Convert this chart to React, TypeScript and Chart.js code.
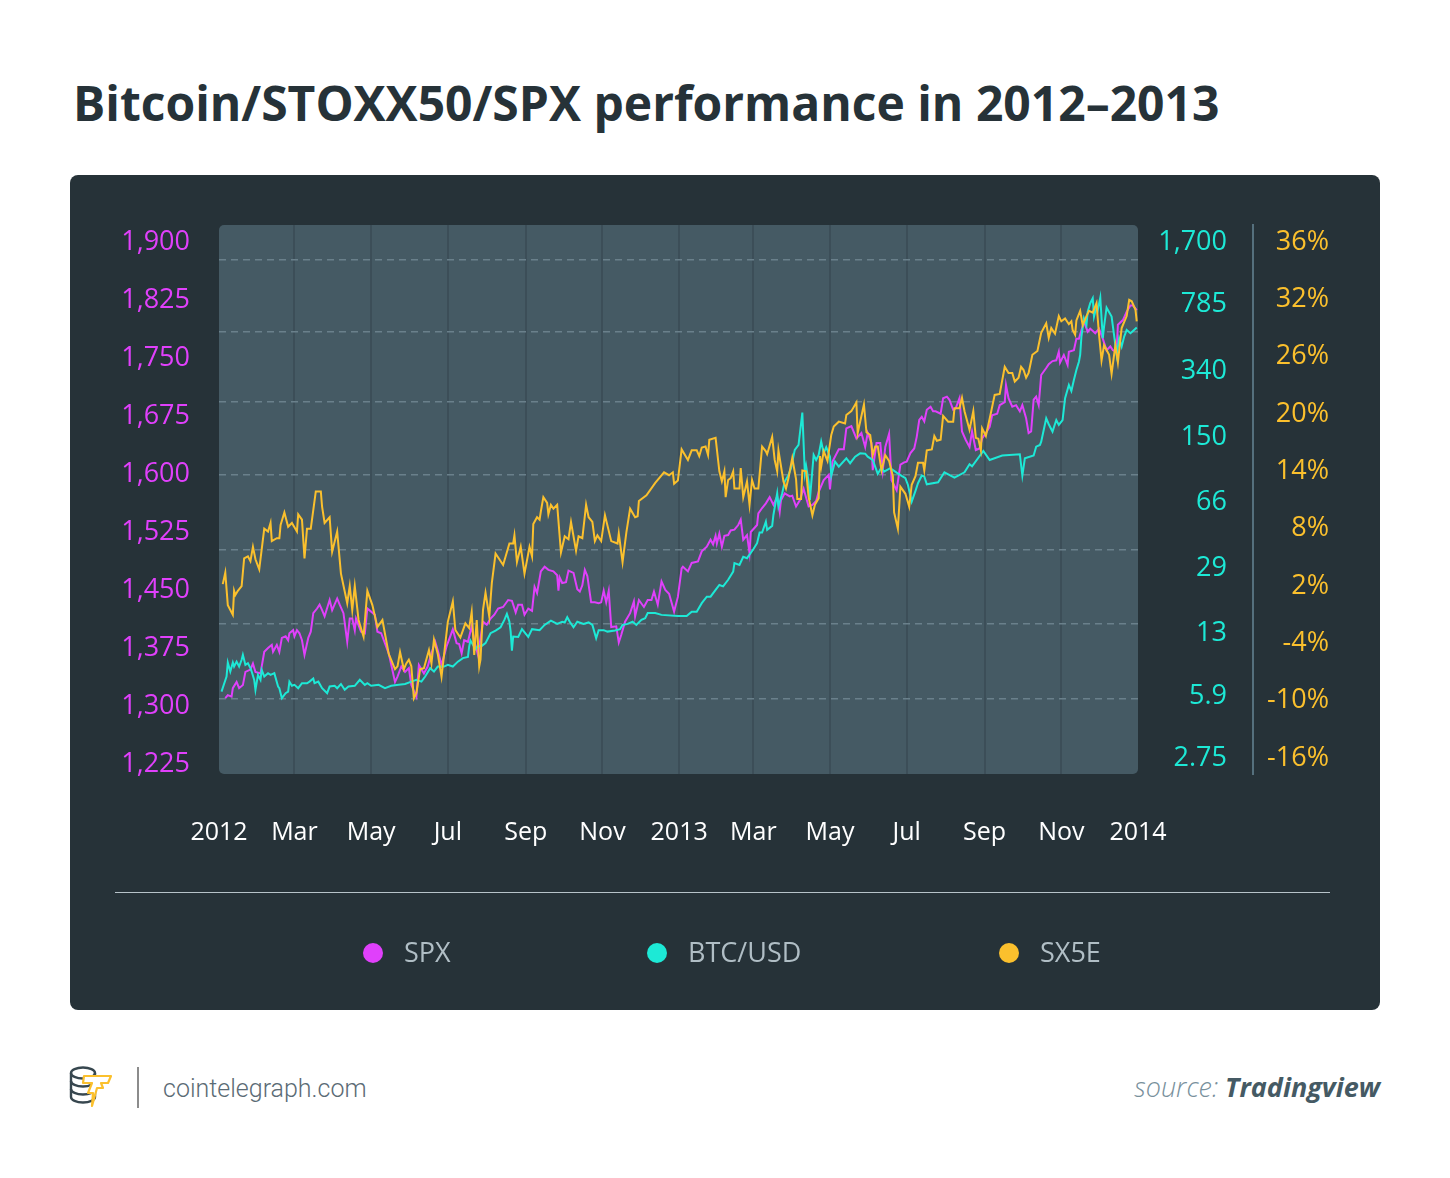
import React, { useEffect, useRef } from 'react';
import { Chart, registerables } from 'chart.js';

Chart.register(...registerables);

// ---------------- data ----------------
const seriesNames = ['SPX', 'BTC/USD', 'SX5E'];
const seriesColors = ['#e040fb', '#1de9d6', '#fbc02d'];

const spxDates = [
  '2012-01-06','2012-01-08','2012-01-11','2012-01-12','2012-01-15','2012-01-17','2012-01-20','2012-01-22','2012-01-26','2012-01-28','2012-01-30',
  '2012-02-03','2012-02-06','2012-02-09','2012-02-12','2012-02-13','2012-02-16','2012-02-18','2012-02-20','2012-02-23','2012-02-25','2012-02-26','2012-02-29',
  '2012-03-01','2012-03-03','2012-03-05','2012-03-07','2012-03-09','2012-03-12','2012-03-14','2012-03-16','2012-03-19','2012-03-21','2012-03-23','2012-03-25','2012-03-29','2012-03-31',
  '2012-04-04','2012-04-06','2012-04-09','2012-04-12','2012-04-14','2012-04-16','2012-04-18','2012-04-19','2012-04-23','2012-04-26','2012-04-28',
  '2012-05-01','2012-05-04','2012-05-06','2012-05-09','2012-05-15','2012-05-20','2012-05-22','2012-05-25','2012-05-28','2012-05-31',
  '2012-06-02','2012-06-06','2012-06-08','2012-06-12','2012-06-15','2012-06-18','2012-06-21','2012-06-23','2012-06-26','2012-06-30',
  '2012-07-05','2012-07-08','2012-07-10','2012-07-12','2012-07-14','2012-07-17','2012-07-20','2012-07-22','2012-07-25','2012-07-29',
  '2012-08-01','2012-08-04','2012-08-07','2012-08-10','2012-08-14','2012-08-18','2012-08-21','2012-08-24','2012-08-26','2012-08-29','2012-08-31',
  '2012-09-03','2012-09-06','2012-09-08','2012-09-10','2012-09-13','2012-09-16','2012-09-19','2012-09-23','2012-09-26','2012-09-27','2012-09-28','2012-09-30',
  '2012-10-03','2012-10-05','2012-10-09','2012-10-12','2012-10-14','2012-10-16','2012-10-18','2012-10-20','2012-10-23','2012-10-26','2012-10-29','2012-10-31',
  '2012-11-02','2012-11-04','2012-11-06','2012-11-08','2012-11-12','2012-11-14','2012-11-16','2012-11-19','2012-11-23','2012-11-26','2012-11-27','2012-11-30',
  '2012-12-04','2012-12-07','2012-12-10','2012-12-12','2012-12-15','2012-12-18','2012-12-21','2012-12-24','2012-12-28','2012-12-31',
  '2013-01-03','2013-01-04','2013-01-08','2013-01-11','2013-01-16','2013-01-19','2013-01-23','2013-01-26','2013-01-28','2013-01-30','2013-01-31',
  '2013-02-02','2013-02-04','2013-02-06','2013-02-09','2013-02-11','2013-02-14','2013-02-17','2013-02-19','2013-02-21','2013-02-24','2013-02-26','2013-02-27',
  '2013-03-04','2013-03-05','2013-03-08','2013-03-11','2013-03-14','2013-03-17','2013-03-20','2013-03-22','2013-03-23','2013-03-26','2013-03-30',
  '2013-04-01','2013-04-04','2013-04-07','2013-04-10','2013-04-14','2013-04-17','2013-04-20','2013-04-22','2013-04-26','2013-04-30',
  '2013-05-01','2013-05-03','2013-05-08','2013-05-12','2013-05-14','2013-05-18','2013-05-22','2013-05-26','2013-05-29','2013-05-31',
  '2013-06-03','2013-06-04','2013-06-07','2013-06-10','2013-06-12','2013-06-14','2013-06-17','2013-06-19','2013-06-23','2013-06-26','2013-06-29',
  '2013-07-01','2013-07-04','2013-07-07','2013-07-09','2013-07-11','2013-07-13','2013-07-15','2013-07-17','2013-07-20','2013-07-22','2013-07-24','2013-07-28','2013-07-30',
  '2013-08-02','2013-08-04','2013-08-07','2013-08-09','2013-08-12','2013-08-14','2013-08-17','2013-08-20','2013-08-22','2013-08-25','2013-08-28','2013-08-30',
  '2013-09-02','2013-09-05','2013-09-07','2013-09-11','2013-09-13','2013-09-17','2013-09-18','2013-09-20','2013-09-23','2013-09-26','2013-09-29',
  '2013-10-01','2013-10-04','2013-10-06','2013-10-08','2013-10-10','2013-10-12','2013-10-14','2013-10-16','2013-10-20','2013-10-22','2013-10-25','2013-10-28','2013-10-30','2013-10-31',
  '2013-11-03','2013-11-06','2013-11-07','2013-11-11','2013-11-13','2013-11-15','2013-11-17','2013-11-19','2013-11-22','2013-11-24','2013-11-28',
  '2013-12-01','2013-12-04','2013-12-07','2013-12-10','2013-12-12','2013-12-15','2013-12-16','2013-12-20','2013-12-23','2013-12-26','2013-12-28','2013-12-31',
];
const spxValues = [
  1310,1314,1312,1323,1331,1323,1327,1344,1347,1355,1344,
  1342,1370,1375,1379,1370,1379,1370,1388,1390,1385,1394,1398,
  1390,1398,1394,1385,1366,1388,1396,1420,1426,1431,1424,1416,1437,1424,
  1439,1431,1420,1383,1413,1413,1398,1413,1396,1394,1426,
  1422,1418,1396,1394,1368,1331,1338,1351,1344,1349,
  1327,1312,1353,1342,1351,1368,1383,1372,1353,1377,
  1399,1381,1380,1368,1385,1383,1403,1385,1366,1409,
  1405,1413,1418,1426,1428,1437,1436,1421,1431,1431,1418,
  1426,1423,1454,1446,1474,1480,1476,1474,1469,1449,1466,1459,
  1460,1475,1472,1451,1448,1456,1476,1468,1434,1434,1433,1434,
  1449,1434,1449,1402,1403,1382,1392,1409,1420,1435,1416,1437,
  1428,1437,1437,1448,1431,1461,1450,1445,1422,1441,
  1478,1480,1474,1485,1487,1500,1506,1515,1509,1520,1510,
  1523,1506,1520,1521,1527,1528,1534,1541,1515,1521,1498,1525,
  1534,1549,1556,1562,1570,1560,1571,1551,1566,1575,1571,
  1572,1558,1566,1581,1558,1560,1565,1577,1592,1599,
  1580,1616,1632,1632,1659,1662,1646,1653,1635,1653,
  1640,1605,1640,1640,1605,1635,1652,1592,1579,1612,1615,
  1616,1627,1633,1648,1670,1674,1668,1683,1687,1681,1681,1678,1698,
  1700,1696,1683,1685,1698,1655,1644,1635,1655,1631,1633,1646,
  1653,1661,1676,1678,1689,1693,1715,1698,1687,1689,1681,
  1689,1672,1653,1655,1696,1700,1689,1728,1737,1742,1746,1747,1758,1744,
  1754,1741,1758,1760,1775,1775,1786,1797,1784,1788,1782,
  1788,1775,1760,1765,1760,1758,1793,1799,1810,1818,1818,1812,
];

const btcDates = [
  '2012-01-03','2012-01-07','2012-01-08','2012-01-10','2012-01-12','2012-01-13','2012-01-15','2012-01-17','2012-01-19','2012-01-20','2012-01-22','2012-01-24','2012-01-26','2012-01-27','2012-01-29','2012-01-30',
  '2012-02-01','2012-02-03','2012-02-04','2012-02-06','2012-02-09','2012-02-11','2012-02-14','2012-02-17','2012-02-18','2012-02-20','2012-02-23','2012-02-25','2012-02-26','2012-02-28',
  '2012-03-01','2012-03-04','2012-03-07','2012-03-11','2012-03-13','2012-03-16','2012-03-17','2012-03-20','2012-03-23','2012-03-27','2012-03-29',
  '2012-04-02','2012-04-04','2012-04-07','2012-04-10','2012-04-13','2012-04-18','2012-04-22','2012-04-26','2012-04-28',
  '2012-05-01','2012-05-07','2012-05-12','2012-05-17','2012-05-23','2012-05-28',
  '2012-06-02','2012-06-06','2012-06-10','2012-06-13','2012-06-17','2012-06-20','2012-06-23','2012-06-28',
  '2012-07-01','2012-07-05','2012-07-09','2012-07-13','2012-07-17','2012-07-18','2012-07-19','2012-07-21','2012-07-23','2012-07-25','2012-07-28','2012-07-31',
  '2012-08-04','2012-08-08','2012-08-12','2012-08-15','2012-08-17','2012-08-19','2012-08-20','2012-08-21','2012-08-22','2012-08-26','2012-08-29',
  '2012-09-03','2012-09-06','2012-09-12','2012-09-16','2012-09-21','2012-09-26','2012-09-30',
  '2012-10-02','2012-10-04','2012-10-06','2012-10-09','2012-10-12','2012-10-17','2012-10-21','2012-10-24','2012-10-27','2012-10-29',
  '2012-11-02','2012-11-05','2012-11-11','2012-11-15','2012-11-17','2012-11-21','2012-11-25','2012-11-28',
  '2012-12-02','2012-12-05','2012-12-07','2012-12-13','2012-12-18','2012-12-31',
  '2013-01-07','2013-01-11','2013-01-15','2013-01-19','2013-01-23','2013-01-26','2013-01-30',
  '2013-02-02','2013-02-05','2013-02-09','2013-02-13','2013-02-14','2013-02-18','2013-02-21','2013-02-24',
  '2013-03-01','2013-03-04','2013-03-06','2013-03-08','2013-03-11','2013-03-12','2013-03-16','2013-03-17','2013-03-20','2013-03-21','2013-03-24','2013-03-26','2013-03-29','2013-03-31',
  '2013-04-03','2013-04-06','2013-04-09','2013-04-11','2013-04-12','2013-04-14','2013-04-15','2013-04-18','2013-04-20','2013-04-22','2013-04-24','2013-04-26','2013-04-28',
  '2013-05-01','2013-05-02','2013-05-05','2013-05-08','2013-05-14','2013-05-17','2013-05-21','2013-05-25','2013-05-29','2013-05-31',
  '2013-06-04','2013-06-08','2013-06-11','2013-06-13','2013-06-18','2013-06-23','2013-06-27','2013-06-30',
  '2013-07-02','2013-07-05','2013-07-08','2013-07-10','2013-07-13','2013-07-15','2013-07-17','2013-07-26','2013-07-31',
  '2013-08-08','2013-08-16','2013-08-20','2013-08-22','2013-08-31',
  '2013-09-05','2013-09-15','2013-09-29',
  '2013-10-01','2013-10-03','2013-10-10','2013-10-12','2013-10-15','2013-10-16','2013-10-20','2013-10-22','2013-10-25','2013-10-28','2013-10-30',
  '2013-11-02','2013-11-04','2013-11-07','2013-11-09','2013-11-11','2013-11-13','2013-11-15','2013-11-16','2013-11-17','2013-11-19','2013-11-21','2013-11-22','2013-11-24','2013-11-26','2013-11-27','2013-11-29','2013-11-30',
  '2013-12-02','2013-12-04','2013-12-05','2013-12-07','2013-12-11','2013-12-14','2013-12-15','2013-12-17','2013-12-19','2013-12-21','2013-12-23','2013-12-26','2013-12-28','2013-12-31',
];
const btcValues = [
  6.28,7.58,9.02,8.06,9.02,8.58,9.12,8.58,9.33,9.93,8.76,8.94,8.41,8.06,7.27,6.42,
  7.74,7.27,8.23,7.58,7.9,7.74,7.9,6.69,6.55,5.79,6.16,6.28,7.11,6.75,
  6.83,6.55,6.97,6.97,7.11,7.39,6.97,7.11,6.55,6.16,6.69,
  6.75,6.55,6.9,6.42,6.69,6.75,7.27,6.83,6.97,
  6.75,6.83,6.55,6.75,6.83,6.9,
  7.11,7.27,7.11,7.58,8.41,8.06,8.58,8.58,
  8.76,8.58,9.12,9.53,9.66,11.0,11.86,11.24,10.66,11.1,11.1,11.49,
  13.0,13.44,14.0,15.35,16.53,15.0,13.26,10.47,12.47,12.4,13.67,
  12.4,13.67,13.5,14.41,15.2,14.6,15.0,
  14.86,15.86,15.0,14.0,15.0,14.6,14.86,14.41,12.2,13.5,
  13.5,13.26,13.44,13.67,14.41,14.6,15.0,14.41,
  15.35,15.68,16.7,16.7,16.33,16.1,
  16.1,17.0,17.0,18.9,20.5,20.5,22.3,
  23.7,23.3,25.3,28.0,31.1,30.4,33.7,33.1,
  37.0,39.9,45.5,45.5,52.2,47.1,49.5,56.7,74.3,62.9,74.3,85.9,93.4,101.5,
  127.5,135.7,202.8,95.3,104.4,85.9,68.4,119.7,112.5,119.7,141.3,122.2,131.8,
  117.2,92.2,110.2,103.5,114.9,108,117.2,122.2,121.6,117.2,
  112.5,94.5,102.7,97.2,101.5,96.1,92.2,89.6,
  82.4,66.9,76.5,84.2,92.6,91.6,83.1,85.2,96.5,
  90.3,96.5,106.7,104.0,125.9,
  112.5,118.8,120.8,
  92.6,114.9,118.8,132.8,135.7,141.3,189,175.6,160.2,185,174,
  185,242.8,286.4,265.7,304.6,345,382.6,416,522.8,657.5,604.6,713.5,792.4,843.5,670.8,759,728,
  849,512.4,592.8,750,670.8,471,416,512,461.6,522.8,568.5,545.6,561.3,585,
];

const sx5eDates = [
  '2012-01-04','2012-01-06','2012-01-08','2012-01-12','2012-01-13','2012-01-14','2012-01-16','2012-01-19','2012-01-21','2012-01-24','2012-01-26','2012-01-28','2012-01-30',
  '2012-02-02','2012-02-06','2012-02-09','2012-02-11','2012-02-12','2012-02-16','2012-02-18','2012-02-19','2012-02-22','2012-02-25','2012-02-28',
  '2012-03-03','2012-03-04','2012-03-07','2012-03-09','2012-03-11','2012-03-14','2012-03-18','2012-03-22','2012-03-23','2012-03-25','2012-03-29','2012-03-31',
  '2012-04-04','2012-04-07','2012-04-12','2012-04-14','2012-04-16','2012-04-18','2012-04-21','2012-04-25','2012-04-28',
  '2012-05-02','2012-05-06','2012-05-10','2012-05-15','2012-05-20','2012-05-22','2012-05-24','2012-05-27','2012-05-29','2012-05-31',
  '2012-06-02','2012-06-04','2012-06-06','2012-06-09','2012-06-12','2012-06-16','2012-06-18','2012-06-20','2012-06-23','2012-06-26',
  '2012-07-01','2012-07-05','2012-07-07','2012-07-11','2012-07-15','2012-07-18','2012-07-20','2012-07-22','2012-07-24','2012-07-26','2012-07-27','2012-07-29','2012-07-31',
  '2012-08-03','2012-08-05','2012-08-08','2012-08-14','2012-08-19','2012-08-22','2012-08-23','2012-08-25','2012-08-28','2012-08-31',
  '2012-09-04','2012-09-06','2012-09-07','2012-09-10','2012-09-12','2012-09-13','2012-09-15','2012-09-18','2012-09-19','2012-09-21','2012-09-23','2012-09-26','2012-09-29',
  '2012-10-02','2012-10-05','2012-10-07','2012-10-11','2012-10-13','2012-10-16','2012-10-19','2012-10-21','2012-10-24','2012-10-26','2012-10-28','2012-10-31',
  '2012-11-03','2012-11-08','2012-11-13','2012-11-14','2012-11-17','2012-11-20','2012-11-23','2012-11-27','2012-11-29','2012-11-30',
  '2012-12-06','2012-12-13','2012-12-20','2012-12-24','2012-12-27','2012-12-28','2012-12-31',
  '2013-01-03','2013-01-08','2013-01-11','2013-01-15','2013-01-17','2013-01-19','2013-01-22','2013-01-24','2013-01-25','2013-01-30',
  '2013-02-02','2013-02-04','2013-02-06','2013-02-07','2013-02-09','2013-02-11','2013-02-13','2013-02-14','2013-02-18','2013-02-19','2013-02-21','2013-02-23','2013-02-24','2013-02-26','2013-02-28',
  '2013-03-02','2013-03-05','2013-03-08','2013-03-11','2013-03-12','2013-03-16','2013-03-18','2013-03-20','2013-03-21','2013-03-25','2013-03-27','2013-03-29',
  '2013-04-01','2013-04-04','2013-04-05','2013-04-08','2013-04-09','2013-04-12','2013-04-14','2013-04-17','2013-04-19','2013-04-22','2013-04-23','2013-04-24','2013-04-26','2013-04-29',
  '2013-05-02','2013-05-04','2013-05-08','2013-05-13','2013-05-14','2013-05-18','2013-05-22','2013-05-23','2013-05-25','2013-05-28','2013-05-30',
  '2013-06-02','2013-06-04','2013-06-06','2013-06-08','2013-06-11','2013-06-14','2013-06-17','2013-06-20','2013-06-21','2013-06-24','2013-06-26','2013-06-30',
  '2013-07-03','2013-07-05','2013-07-08','2013-07-10','2013-07-14','2013-07-15','2013-07-17','2013-07-21','2013-07-23','2013-07-25','2013-07-28','2013-07-30',
  '2013-08-03','2013-08-07','2013-08-08','2013-08-12','2013-08-14','2013-08-16','2013-08-20','2013-08-23','2013-08-25','2013-08-27','2013-08-29','2013-08-30',
  '2013-09-02','2013-09-05','2013-09-09','2013-09-13','2013-09-17','2013-09-20','2013-09-23','2013-09-25','2013-09-28','2013-09-30',
  '2013-10-02','2013-10-04','2013-10-06','2013-10-09','2013-10-13','2013-10-16','2013-10-20','2013-10-22','2013-10-24','2013-10-27','2013-10-30',
  '2013-11-01','2013-11-04','2013-11-07','2013-11-09','2013-11-10','2013-11-12','2013-11-13','2013-11-16','2013-11-18','2013-11-21','2013-11-23','2013-11-26','2013-11-29',
  '2013-12-01','2013-12-03','2013-12-05','2013-12-07','2013-12-09','2013-12-11','2013-12-14','2013-12-16','2013-12-19','2013-12-23','2013-12-25','2013-12-27','2013-12-30','2013-12-31',
];
const sx5eValues = [
  2.2,3.4,0.0,-1.0,1.5,1.05,1.5,2.0,4.9,5.1,4.6,6.1,4.8,
  3.75,8.0,7.7,8.6,6.7,7.0,7.0,8.4,9.7,8.2,8.6,
  7.7,9.5,8.95,4.9,8.0,8.0,11.9,11.9,10.3,8.6,9.2,5.6,
  7.7,3.3,0.2,2.0,-0.5,2.0,-1.55,-3.3,1.5,
  0.0,-2.3,-1.55,-5.1,-6.7,-6.4,-4.9,-6.7,-6.1,-5.7,
  -6.4,-9.75,-9.2,-6.7,-6.6,-4.7,-6.1,-3.6,-5.1,-7.5,
  -1.75,0.4,-2.6,-3.4,-1.9,-2.4,-0.7,-5.2,-1.55,-6.4,-5.7,-0.5,1.3,
  -1.2,2.3,5.4,4.2,6.45,6.45,7.3,4.5,6.1,3.3,
  6.1,5.1,8.5,9.2,8.95,9.8,11.3,10.7,9.5,10.5,10.1,10.5,5.5,
  7.2,6.9,8.7,5.7,7.2,7.0,10.5,9.2,8.7,6.7,7.3,6.7,
  9.4,6.7,6.45,7.5,4.5,7.6,10.1,9.2,9.3,10.9,
  11.5,12.8,13.9,13.6,13.9,12.7,13.05,
  16.3,15.2,16.2,16.2,15.6,16.5,16.6,15.7,17.3,17.5,
  14.0,12.95,14.0,11.3,13.1,13.3,14.0,12.2,12.2,14.35,11.3,12.4,12.95,10.5,13.1,
  12.2,12.2,16.6,16.1,15.8,17.6,15.2,14.0,16.2,12.95,12.2,13.3,
  15.4,13.2,11.1,11.1,14.1,14.0,11.3,9.4,10.5,11.2,15.6,14.5,16.1,15.1,
  17.8,18.7,19.2,19.0,19.9,20.3,21.2,18.0,19.2,21.0,18.1,
  17.8,15.7,16.6,16.6,14.1,15.7,15.1,13.5,9.7,8.0,12.4,11.65,
  10.3,12.6,13.5,14.9,14.9,14.1,16.2,16.3,17.7,17.2,17.3,19.8,
  19.2,19.2,20.6,20.6,21.7,20.3,18.35,20.3,17.5,17.4,16.2,18.5,
  17.7,19.5,22.0,22.1,24.95,24.3,24.3,23.4,23.8,24.95,
  24.6,23.8,24.3,26.2,26.6,28.5,29.5,27.96,29.0,28.4,30.25,
  29.7,30.0,29.4,29.7,28.8,28.3,29.8,30.8,29.3,30.25,30.8,30.6,31.6,
  28.3,25.6,27.2,26.7,26.2,24.2,27.2,25.4,29.0,30.25,31.95,31.8,30.9,29.7,
];

// axis ticks and labels
const xTickDates = ['2012-01-01','2012-03-01','2012-05-01','2012-07-01','2012-09-01','2012-11-01','2013-01-01','2013-03-01','2013-05-01','2013-07-01','2013-09-01','2013-11-01','2014-01-01'];
const xTickLabels = ['2012','Mar','May','Jul','Sep','Nov','2013','Mar','May','Jul','Sep','Nov','2014'];
const spxTicks = [1225, 1300, 1375, 1450, 1525, 1600, 1675, 1750, 1825, 1900];
const btcTicks = [2.75, 5.9, 13, 29, 66, 150, 340, 785, 1700];
const btcTickLabels = ['2.75', '5.9', '13', '29', '66', '150', '340', '785', '1,700'];
const pctTicks = [-16, -10, -4, 2, 8, 14, 20, 26, 32, 38];
const pctTickLabels = ['-16%', '-10%', '-4%', '2%', '8%', '14%', '20%', '26%', '32%', '36%'];
// dashed guide lines, expressed on the SPX scale
const guideLevels = [1309, 1406, 1502, 1599, 1694, 1784, 1877];

// ---------------- helpers ----------------
const START = Date.UTC(2012, 0, 1);
const dayOf = (d: string) => {
  const [y, m, dd] = d.split('-').map(Number);
  return (Date.UTC(y, m - 1, dd) - START) / 86400000;
};
const FONT = "'Open Sans', 'DejaVu Sans', sans-serif";

const plotBg = {
  id: 'plotBg',
  beforeDraw(chart: any) {
    const { ctx, chartArea } = chart;
    const { left, top, right, bottom } = chartArea;
    ctx.save();
    ctx.fillStyle = '#455a64';
    ctx.beginPath();
    if (ctx.roundRect) ctx.roundRect(left, top, right - left, bottom - top, 5);
    else ctx.rect(left, top, right - left, bottom - top);
    ctx.fill();
    ctx.restore();
  },
};

function Logo() {
  return (
    <svg width="46" height="46" viewBox="0 0 46 46" style={{ position: 'absolute', left: 68, top: 1064 }}>
      <g fill="none" stroke="#37474f" strokeWidth="2.4">
        <ellipse cx="15" cy="9" rx="12" ry="5.5" />
        <path d="M3 9 v24 a12 5.5 0 0 0 24 0 v-24" />
        <path d="M3 17 a12 5.5 0 0 0 24 0" />
        <path d="M3 25 a12 5.5 0 0 0 24 0" />
      </g>
      <path d="M16 12 L43 12 L40 19 L33 19 L35 24 L29 24 L24 42 L25 29 L20 29 L24 19 L15 19 Z"
        fill="#ffffff" stroke="#fbc02d" strokeWidth="2.2" strokeLinejoin="round" />
    </svg>
  );
}

export default function App() {
  const ref = useRef<HTMLCanvasElement>(null);

  useEffect(() => {
    document.body.style.margin = '0';
    const canvas = ref.current;
    if (!canvas) return;
    const mk = (dates: string[], values: number[]) => dates.map((d, i) => ({ x: dayOf(d), y: values[i] }));
    const lastX = xTickDates.length - 1;

    const chart = new Chart(canvas, {
      type: 'line',
      data: {
        datasets: [
          { label: seriesNames[0], data: mk(spxDates, spxValues), yAxisID: 'ySPX', xAxisID: 'x', borderColor: seriesColors[0], order: 2 },
          { label: seriesNames[1], data: mk(btcDates, btcValues), yAxisID: 'yBTC', xAxisID: 'x', borderColor: seriesColors[1], order: 1 },
          { label: seriesNames[2], data: mk(sx5eDates, sx5eValues), yAxisID: 'yPct', xAxisID: 'x', borderColor: seriesColors[2], order: 0 },
        ] as any,
      },
      options: {
        animation: false,
        responsive: false,
        events: [],
        layout: { padding: { top: 50, bottom: 136, left: 0, right: 51 } },
        elements: {
          line: { borderWidth: 2, tension: 0, fill: false },
          point: { radius: 0, hoverRadius: 0 },
        },
        plugins: { legend: { display: false }, tooltip: { enabled: false } },
        scales: {
          x: {
            type: 'linear',
            min: 0,
            max: dayOf(xTickDates[lastX]),
            afterBuildTicks: (s: any) => { s.ticks = xTickDates.map((d) => ({ value: dayOf(d) })); },
            afterFit: (s: any) => { s.height = 100; },
            ticks: {
              autoSkip: false, maxRotation: 0, minRotation: 0,
              color: '#ffffff', font: { family: FONT, size: 25 }, padding: 44,
              callback: (_v: any, i: number) => xTickLabels[i],
            },
            grid: {
              drawTicks: false, lineWidth: 2,
              color: (c: any) => (c.index === 0 || c.index === lastX ? 'rgba(0,0,0,0)' : '#3c4e58'),
            },
            border: { display: false },
          },
          ySPX: {
            type: 'linear', position: 'left', min: 1212, max: 1922,
            afterBuildTicks: (s: any) => { s.ticks = spxTicks.map((v) => ({ value: v })); },
            afterFit: (s: any) => { s.width = 149; },
            ticks: {
              color: seriesColors[0], font: { family: FONT, size: 27 }, padding: 29,
              callback: (v: any) => Number(v).toLocaleString('en-US'),
            },
            grid: { display: false, drawTicks: false },
            border: { display: false },
          },
          yBTC: {
            type: 'logarithmic', position: 'right', min: 2.25, max: 2100,
            afterBuildTicks: (s: any) => { s.ticks = btcTicks.map((v) => ({ value: v })); },
            afterFit: (s: any) => { s.width = 89; },
            ticks: {
              color: seriesColors[1], font: { family: FONT, size: 27 }, padding: 10, crossAlign: 'far',
              callback: (_v: any, i: number) => btcTickLabels[i],
            },
            grid: { display: false, drawTicks: false },
            border: { display: false },
          },
          yGuide: {
            type: 'linear', position: 'right', min: 1212, max: 1922,
            afterBuildTicks: (s: any) => { s.ticks = guideLevels.map((v) => ({ value: v })); },
            afterFit: (s: any) => { s.width = 26; },
            ticks: { display: false },
            grid: { color: '#6a808b', lineWidth: 1.5, drawTicks: false },
            border: { display: false, dash: [7, 5] },
          },
          yPct: {
            type: 'linear', position: 'right', min: -17.67, max: 39.78,
            afterBuildTicks: (s: any) => { s.ticks = pctTicks.map((v) => ({ value: v })); },
            afterFit: (s: any) => { s.width = 76; },
            ticks: {
              color: seriesColors[2], font: { family: FONT, size: 27 }, padding: 8, crossAlign: 'far',
              callback: (_v: any, i: number) => pctTickLabels[i],
            },
            grid: { display: false, drawTicks: false },
            border: { display: true, color: '#55707d', width: 2 },
          },
        } as any,
      },
      plugins: [plotBg],
    } as any);

    return () => chart.destroy();
  }, []);

  const legendLeft = [293, 577, 929];

  return (
    <div style={{ position: 'relative', width: 1450, height: 1178, background: '#ffffff', overflow: 'hidden', fontFamily: FONT }}>
      <div style={{ position: 'absolute', left: 73, top: 79, fontSize: 48, lineHeight: 1, fontWeight: 700, color: '#263238', whiteSpace: 'nowrap' }}>
        Bitcoin/STOXX50/SPX performance in 2012–2013
      </div>

      <div style={{ position: 'absolute', left: 70, top: 175, width: 1310, height: 835, background: '#263238', borderRadius: 8 }}>
        <canvas ref={ref} width={1310} height={835} style={{ position: 'absolute', left: 0, top: 0, width: 1310, height: 835 }} />
        <div style={{ position: 'absolute', left: 45, top: 717, width: 1215, height: 1, background: '#b7c3c9' }} />
        {seriesNames.map((n, i) => (
          <React.Fragment key={n}>
            <div style={{ position: 'absolute', left: legendLeft[i], top: 768, width: 20, height: 20, borderRadius: 10, background: seriesColors[i] }} />
            <div style={{ position: 'absolute', left: legendLeft[i] + 41, top: 763, fontSize: 27, lineHeight: 1, color: '#b0bec5', whiteSpace: 'nowrap' }}>{n}</div>
          </React.Fragment>
        ))}
      </div>

      <Logo />
      <div style={{ position: 'absolute', left: 137, top: 1067, width: 2, height: 41, background: '#8c8c8c' }} />
      <div style={{ position: 'absolute', left: 163, top: 1076, fontFamily: "Roboto, 'Open Sans', sans-serif", fontWeight: 300, fontSize: 25, lineHeight: 1, color: '#5b6b75', whiteSpace: 'nowrap' }}>
        cointelegraph.com
      </div>
      <div style={{ position: 'absolute', right: 70, top: 1073, fontSize: 27, lineHeight: 1, fontStyle: 'italic', whiteSpace: 'nowrap' }}>
        <span style={{ fontWeight: 300, color: '#78909c' }}>source: </span>
        <span style={{ fontWeight: 700, color: '#455a64' }}>Tradingview</span>
      </div>
    </div>
  );
}
